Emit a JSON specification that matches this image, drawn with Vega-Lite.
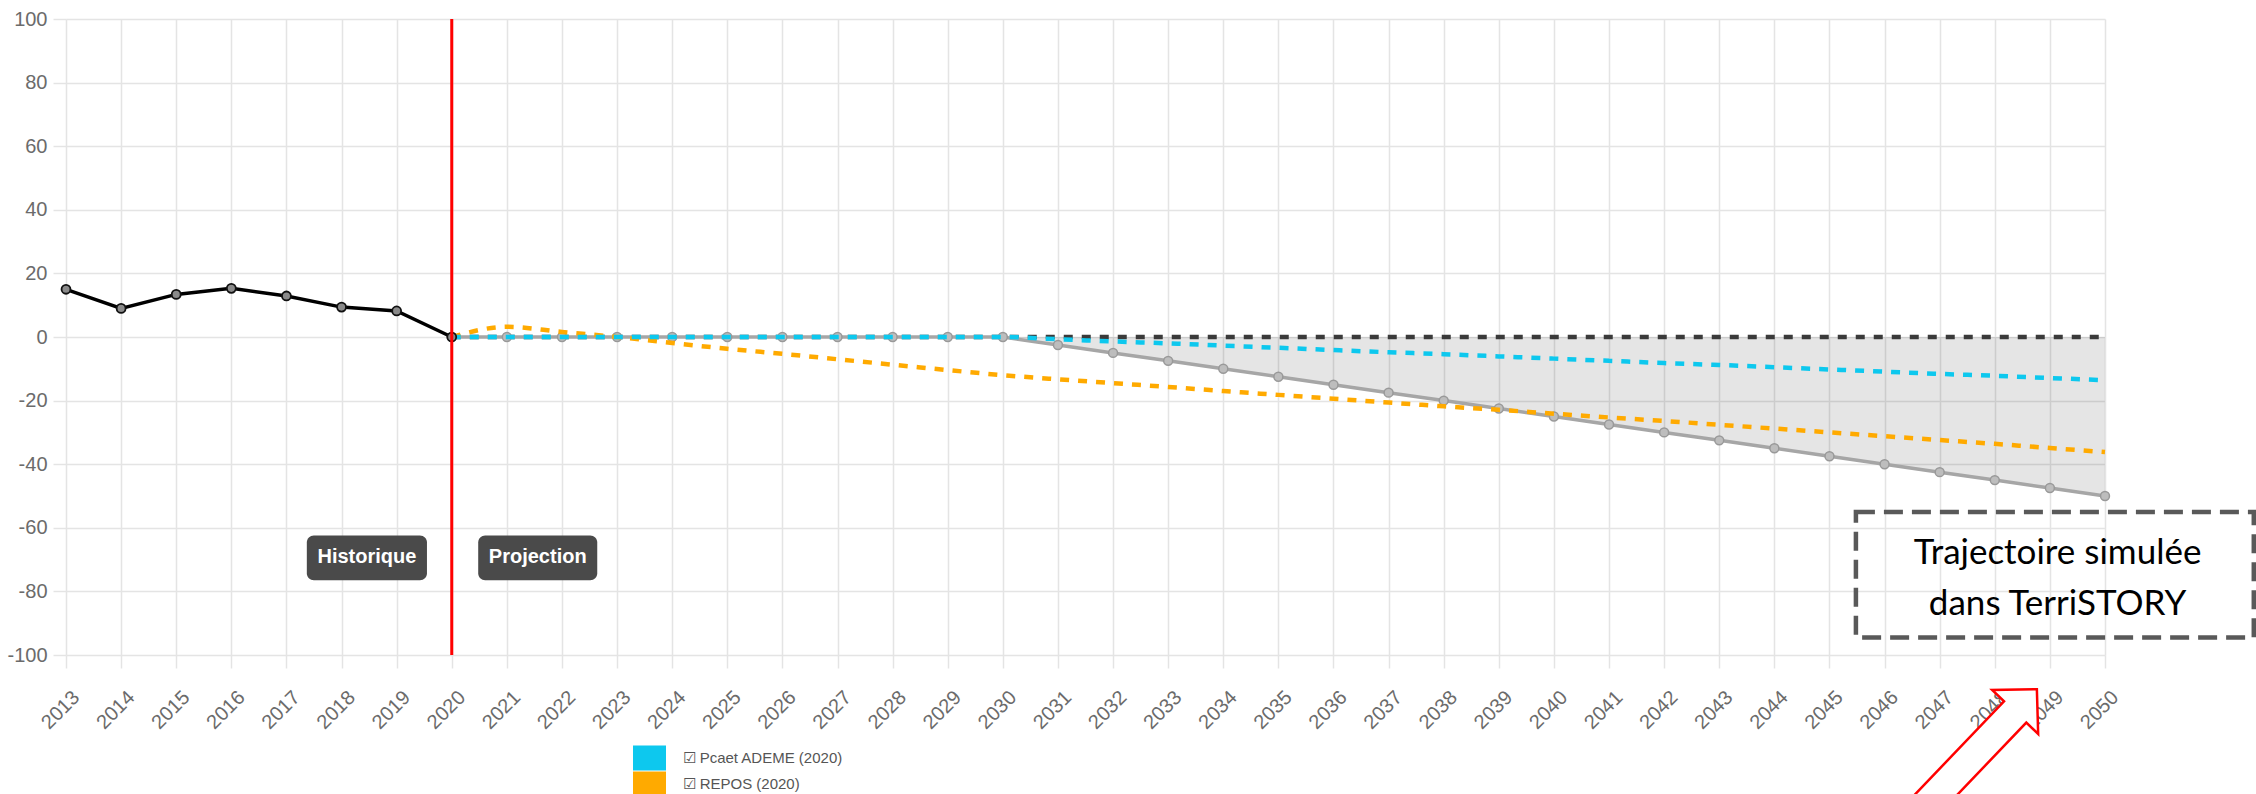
{
  "$schema": "https://vega.github.io/schema/vega-lite/v6.json",
  "autosize": {"type": "none"},
  "width": 2039,
  "height": 636,
  "padding": {"left": 66, "top": 19, "right": 151, "bottom": 139},
  "background": "white",
  "config": {"view": {"stroke": null}},
  "datasets": {
    "hist": [
      {"year": 2013, "value": 15.0}, {"year": 2014, "value": 9.0}, {"year": 2015, "value": 13.4},
      {"year": 2016, "value": 15.3}, {"year": 2017, "value": 12.9}, {"year": 2018, "value": 9.4},
      {"year": 2019, "value": 8.2}, {"year": 2020, "value": 0}
    ],
    "sim": [
      {"year": 2020, "value": 0}, {"year": 2021, "value": 0}, {"year": 2022, "value": 0}, {"year": 2023, "value": 0},
      {"year": 2024, "value": 0}, {"year": 2025, "value": 0}, {"year": 2026, "value": 0}, {"year": 2027, "value": 0},
      {"year": 2028, "value": 0}, {"year": 2029, "value": 0}, {"year": 2030, "value": 0},
      {"year": 2031, "value": -2.5}, {"year": 2032, "value": -5}, {"year": 2033, "value": -7.5}, {"year": 2034, "value": -10},
      {"year": 2035, "value": -12.5}, {"year": 2036, "value": -15}, {"year": 2037, "value": -17.5}, {"year": 2038, "value": -20},
      {"year": 2039, "value": -22.5}, {"year": 2040, "value": -25}, {"year": 2041, "value": -27.5}, {"year": 2042, "value": -30},
      {"year": 2043, "value": -32.5}, {"year": 2044, "value": -35}, {"year": 2045, "value": -37.5}, {"year": 2046, "value": -40},
      {"year": 2047, "value": -42.5}, {"year": 2048, "value": -45}, {"year": 2049, "value": -47.5}, {"year": 2050, "value": -50}
    ],
    "scen": [
      {"series": "REPOS (2020)", "year": 2020, "value": 0}, {"series": "REPOS (2020)", "year": 2021, "value": 3.2},
      {"series": "REPOS (2020)", "year": 2022, "value": 1.6}, {"series": "REPOS (2020)", "year": 2023, "value": 0},
      {"series": "REPOS (2020)", "year": 2024, "value": -1.9}, {"series": "REPOS (2020)", "year": 2025, "value": -3.7},
      {"series": "REPOS (2020)", "year": 2026, "value": -5.3}, {"series": "REPOS (2020)", "year": 2027, "value": -7.0},
      {"series": "REPOS (2020)", "year": 2028, "value": -8.7}, {"series": "REPOS (2020)", "year": 2029, "value": -10.4},
      {"series": "REPOS (2020)", "year": 2030, "value": -12.0}, {"series": "REPOS (2020)", "year": 2031, "value": -13.3},
      {"series": "REPOS (2020)", "year": 2032, "value": -14.5}, {"series": "REPOS (2020)", "year": 2033, "value": -15.7},
      {"series": "REPOS (2020)", "year": 2034, "value": -17.0}, {"series": "REPOS (2020)", "year": 2035, "value": -18.2},
      {"series": "REPOS (2020)", "year": 2036, "value": -19.4}, {"series": "REPOS (2020)", "year": 2037, "value": -20.6},
      {"series": "REPOS (2020)", "year": 2038, "value": -21.8}, {"series": "REPOS (2020)", "year": 2039, "value": -22.9},
      {"series": "REPOS (2020)", "year": 2040, "value": -24.1}, {"series": "REPOS (2020)", "year": 2041, "value": -25.3},
      {"series": "REPOS (2020)", "year": 2042, "value": -26.4}, {"series": "REPOS (2020)", "year": 2043, "value": -27.6},
      {"series": "REPOS (2020)", "year": 2044, "value": -28.8}, {"series": "REPOS (2020)", "year": 2045, "value": -30.0},
      {"series": "REPOS (2020)", "year": 2046, "value": -31.2}, {"series": "REPOS (2020)", "year": 2047, "value": -32.4},
      {"series": "REPOS (2020)", "year": 2048, "value": -33.6}, {"series": "REPOS (2020)", "year": 2049, "value": -34.9},
      {"series": "REPOS (2020)", "year": 2050, "value": -36.2},
      {"series": "Pcaet ADEME (2020)", "year": 2020, "value": 0}, {"series": "Pcaet ADEME (2020)", "year": 2021, "value": 0},
      {"series": "Pcaet ADEME (2020)", "year": 2022, "value": 0}, {"series": "Pcaet ADEME (2020)", "year": 2023, "value": 0},
      {"series": "Pcaet ADEME (2020)", "year": 2024, "value": 0}, {"series": "Pcaet ADEME (2020)", "year": 2025, "value": 0},
      {"series": "Pcaet ADEME (2020)", "year": 2026, "value": 0}, {"series": "Pcaet ADEME (2020)", "year": 2027, "value": 0},
      {"series": "Pcaet ADEME (2020)", "year": 2028, "value": 0}, {"series": "Pcaet ADEME (2020)", "year": 2029, "value": 0},
      {"series": "Pcaet ADEME (2020)", "year": 2030, "value": 0}, {"series": "Pcaet ADEME (2020)", "year": 2031, "value": -0.7},
      {"series": "Pcaet ADEME (2020)", "year": 2032, "value": -1.4}, {"series": "Pcaet ADEME (2020)", "year": 2033, "value": -2.0},
      {"series": "Pcaet ADEME (2020)", "year": 2034, "value": -2.7}, {"series": "Pcaet ADEME (2020)", "year": 2035, "value": -3.4},
      {"series": "Pcaet ADEME (2020)", "year": 2036, "value": -4.1}, {"series": "Pcaet ADEME (2020)", "year": 2037, "value": -4.8},
      {"series": "Pcaet ADEME (2020)", "year": 2038, "value": -5.4}, {"series": "Pcaet ADEME (2020)", "year": 2039, "value": -6.1},
      {"series": "Pcaet ADEME (2020)", "year": 2040, "value": -6.8}, {"series": "Pcaet ADEME (2020)", "year": 2041, "value": -7.5},
      {"series": "Pcaet ADEME (2020)", "year": 2042, "value": -8.2}, {"series": "Pcaet ADEME (2020)", "year": 2043, "value": -8.8},
      {"series": "Pcaet ADEME (2020)", "year": 2044, "value": -9.5}, {"series": "Pcaet ADEME (2020)", "year": 2045, "value": -10.2},
      {"series": "Pcaet ADEME (2020)", "year": 2046, "value": -10.9}, {"series": "Pcaet ADEME (2020)", "year": 2047, "value": -11.6},
      {"series": "Pcaet ADEME (2020)", "year": 2048, "value": -12.2}, {"series": "Pcaet ADEME (2020)", "year": 2049, "value": -12.9},
      {"series": "Pcaet ADEME (2020)", "year": 2050, "value": -13.6}
    ],
    "ref": [{"year": 2020, "value": 0}, {"year": 2050, "value": 0}],
    "divider": [{"year": 2020, "value": 100, "bottom": -100}],
    "tags": [
      {"label": "Historique", "year": 2017.37, "x2": 2019.55, "xc": 2018.46, "value": -62.4, "y2": -76.5, "yt": -71.0},
      {"label": "Projection", "year": 2020.48, "x2": 2022.64, "xc": 2021.56, "value": -62.4, "y2": -76.5, "yt": -71.0}
    ],
    "callout": [{"year": 2045.48, "x2": 2052.7, "value": -55.05, "y2": -94.5}],
    "callouttext": [
      {"line": "Trajectoire simulée", "year": 2049.14, "value": -71.3},
      {"line": "dans TerriSTORY", "year": 2049.14, "value": -87.5}
    ],
    "arrow": [{"year": 2048.37, "value": -117.9}]
  },
  "encoding": {
    "x": {
      "field": "year", "type": "quantitative",
      "scale": {"domain": [2013, 2050], "nice": false, "zero": false},
      "axis": {
        "title": null,
        "values": [2013, 2014, 2015, 2016, 2017, 2018, 2019, 2020, 2021, 2022, 2023, 2024, 2025, 2026, 2027, 2028, 2029, 2030, 2031, 2032, 2033, 2034, 2035, 2036, 2037, 2038, 2039, 2040, 2041, 2042, 2043, 2044, 2045, 2046, 2047, 2048, 2049, 2050],
        "labelExpr": "'' + datum.value",
        "labelAngle": -45, "labelAlign": "right", "labelBaseline": "middle",
        "labelOffset": 10, "labelPadding": 26,
        "labelFont": "Liberation Sans", "labelFontSize": 20, "labelColor": "#6b6b6b",
        "labelOverlap": false, "labelBound": false, "labelFlush": false,
        "grid": true, "gridColor": "#e4e4e4", "gridWidth": 1.5,
        "ticks": true, "tickSize": 13, "tickColor": "#e4e4e4", "tickWidth": 1.5,
        "domain": false
      }
    },
    "y": {
      "field": "value", "type": "quantitative",
      "scale": {"domain": [-100, 100], "nice": false},
      "axis": {
        "title": null,
        "values": [-100, -80, -60, -40, -20, 0, 20, 40, 60, 80, 100],
        "labelExpr": "'' + datum.value",
        "labelFont": "Liberation Sans", "labelFontSize": 20, "labelColor": "#6b6b6b",
        "labelPadding": 6,
        "grid": true, "gridColor": "#e4e4e4", "gridWidth": 1.5,
        "ticks": true, "tickSize": 13, "tickColor": "#e4e4e4", "tickWidth": 1.5,
        "domain": false
      }
    }
  },
  "layer": [
    {
      "data": {"name": "sim"},
      "transform": [{"filter": "datum.year >= 2030"}],
      "mark": {"type": "area", "color": "#000000", "opacity": 0.1},
      "encoding": {"y2": {"datum": 0}}
    },
    {
      "data": {"name": "ref"},
      "mark": {"type": "line", "color": "#3a3a3a", "strokeWidth": 4.5, "strokeDash": [9, 9]},
      "encoding": {}
    },
    {
      "data": {"name": "sim"},
      "mark": {"type": "line", "color": "#a6a6a6", "strokeWidth": 3.5},
      "encoding": {}
    },
    {
      "data": {"name": "sim"},
      "mark": {"type": "point", "filled": true, "fill": "#bdbdbd", "stroke": "#999999", "strokeWidth": 1.5, "size": 80, "opacity": 1},
      "encoding": {}
    },
    {
      "data": {"name": "scen"},
      "mark": {"type": "line", "strokeWidth": 4.5, "strokeDash": [9, 9], "interpolate": "monotone"},
      "encoding": {
        "color": {
          "field": "series", "type": "nominal",
          "scale": {"domain": ["Pcaet ADEME (2020)", "REPOS (2020)"], "range": ["#0dc8ee", "#ffaa00"]},
          "legend": {
            "orient": "none", "legendX": 571.5, "legendY": 727,
            "title": null, "padding": 0, "rowPadding": 0,
            "symbolType": "M-1.375,-1.04H1.375V1.04H-1.375Z", "symbolSize": 576, "symbolStrokeWidth": 0,
            "labelFont": "Liberation Sans", "labelFontSize": 15, "labelColor": "#555555",
            "labelOffset": 21, "labelLimit": 400,
            "labelExpr": "'☑ ' + datum.label",
            "encode": {"symbols": {"update": {"fill": {"scale": "color", "field": "value"}, "opacity": {"value": 1}, "strokeDash": {"value": []}, "strokeWidth": {"value": 0}}}}
          }
        },
        "order": {"field": "year", "type": "quantitative"}
      }
    },
    {
      "data": {"name": "hist"},
      "mark": {"type": "line", "color": "#000000", "strokeWidth": 3.5},
      "encoding": {}
    },
    {
      "data": {"name": "hist"},
      "mark": {"type": "point", "filled": true, "fill": "#8a8a8a", "stroke": "#111111", "strokeWidth": 1.8, "size": 80, "opacity": 1},
      "encoding": {}
    },
    {
      "data": {"name": "divider"},
      "mark": {"type": "rule", "color": "#ff0000", "strokeWidth": 3},
      "encoding": {"y2": {"field": "bottom"}}
    },
    {
      "data": {"name": "tags"},
      "mark": {"type": "rect", "color": "#4a4a4a", "cornerRadius": 7},
      "encoding": {"x2": {"field": "x2"}, "y2": {"field": "y2"}}
    },
    {
      "data": {"name": "tags"},
      "mark": {"type": "text", "color": "#ffffff", "font": "Liberation Sans", "fontWeight": "bold", "fontSize": 20, "align": "center", "baseline": "alphabetic"},
      "encoding": {
        "x": {"field": "xc", "type": "quantitative"},
        "y": {"field": "yt", "type": "quantitative"},
        "text": {"field": "label"}
      }
    },
    {
      "data": {"name": "callout"},
      "mark": {"type": "rect", "fill": "transparent", "stroke": "#595959", "strokeWidth": 4.5, "strokeDash": [19, 9]},
      "encoding": {"x2": {"field": "x2"}, "y2": {"field": "y2"}}
    },
    {
      "data": {"name": "callouttext"},
      "mark": {"type": "text", "color": "#000000", "font": "Lato", "fontSize": 35, "align": "center", "baseline": "alphabetic"},
      "encoding": {"text": {"field": "line"}}
    },
    {
      "data": {"name": "arrow"},
      "mark": {"type": "point", "shape": "M0,-0.314L0.318,0L0.154,0L0.154,2.2L-0.154,2.2L-0.154,0L-0.318,0Z", "size": 40000, "angle": 43.7, "filled": true, "fill": "#ffffff", "stroke": "#ff0000", "strokeWidth": 2.5, "opacity": 1},
      "encoding": {}
    }
  ]
}
